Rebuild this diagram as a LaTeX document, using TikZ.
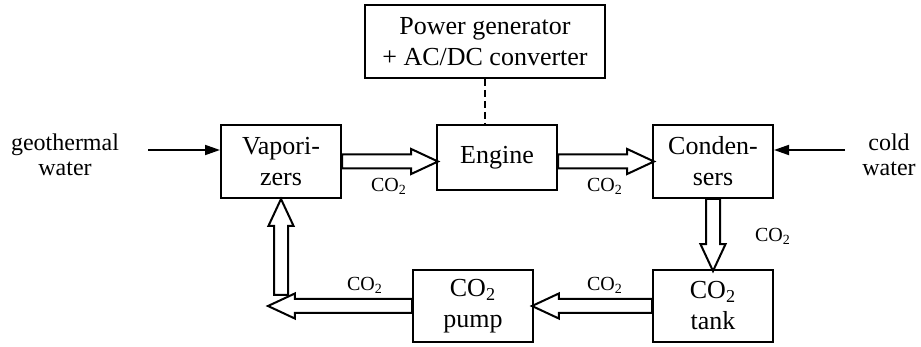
\documentclass[tikz,border=0pt]{standalone}
\usepackage{fontspec}
\setmainfont{Liberation Serif}
\usetikzlibrary{arrows.meta,shapes.arrows,calc}

\begin{document}
\begin{tikzpicture}[x=0.5pt, y=-0.5pt,
  block/.style={draw, line width=1pt, minimum width=60pt, minimum height=36.5pt,
    align=center, inner sep=0pt, font=\fontsize{13}{15.5}\selectfont},
  flow/.style={single arrow, draw, line width=1pt, inner xsep=0pt, inner ysep=3pt,
    single arrow head extend=2.75pt, single arrow tip angle=50,
    single arrow head indent=0pt, outer sep=0pt, anchor=tail},
  feed/.style={line width=0.9pt, -{Triangle[length=7.5pt,width=5pt]}},
  co2/.style={font=\fontsize{10}{12}\selectfont, inner sep=0pt},
  water/.style={align=center, font=\fontsize{12}{12.5}\selectfont}]

  \useasboundingbox (0,0) rectangle (921,347);

  % ブロック
  \node[block, minimum width=120pt] (power) at (485,41.5) {Power generator\\+ AC/DC converter};
  \node[block] (vap) at (281,161.5) {Vapori-\\zers};
  \node[block, minimum height=32.5pt] (eng) at (497,157.5) {Engine};
  \node[block] (cond) at (713,161.5) {Conden-\\sers};
  \node[block, minimum height=36pt] (tank) at (713,306) {CO\textsubscript{2}\\tank};
  \node[block, minimum height=36pt] (pump) at (473,306) {CO\textsubscript{2}\\pump};

  % 水の入口
  \node[water] (geo) at (65,155) {geothermal\\water};
  \node[water] (cold) at (889,155) {cold\\water};
  \coordinate (geoin) at (148,150);
  \coordinate (coldin) at (845,150);
  \draw[feed] (geoin) -- (geoin -| vap.west);
  \draw[feed] (coldin) -- (coldin -| cond.east);

  % 発電機
  \draw[line width=1pt, dash pattern=on 3.5pt off 2pt] (power) -- (power |- eng.north);

  % CO2 の流れ
  \node[flow, minimum height=48pt] (f1) at (vap.east) {};
  \node[flow, minimum height=48pt] (f2) at (eng.east |- cond.west) {};
  \node[flow, minimum height=36pt, rotate=-90] (f3) at (cond.south) {};
  \node[flow, minimum height=60pt, rotate=180] (f4) at (tank.west) {};
  \node[flow, minimum height=72pt, rotate=180] (f5) at (pump.west) {};
  \node[flow, minimum height=48pt, rotate=90] (f6) at ([yshift=-48pt]vap.south) {};

  % ラベル
  \foreach \x/\y [count=\i] in {389/186, 605/186, 773/236, 605/285, 365/285}
    \node[co2] (lbl\i) at (\x,\y) {CO\textsubscript{2}};
\end{tikzpicture}
\end{document}
